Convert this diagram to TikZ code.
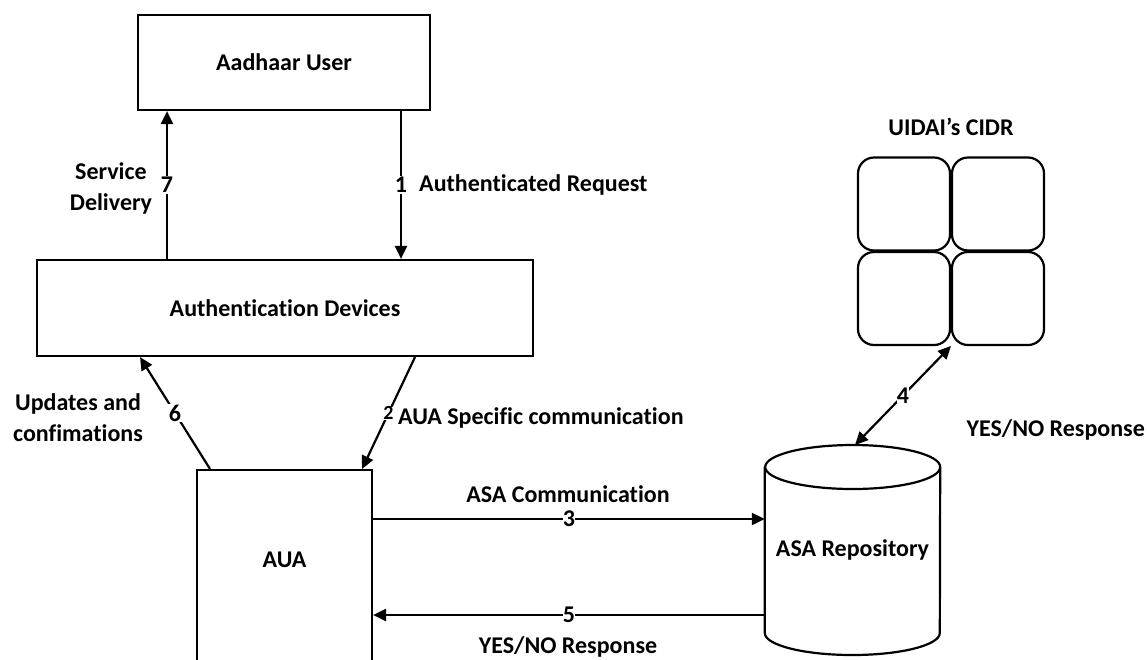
\documentclass[tikz,border=0pt]{standalone}
\usepackage{fontspec}
\setmainfont{Carlito}[Ligatures={NoCommon}]
\usetikzlibrary{arrows.meta}
\begin{document}
\begin{tikzpicture}[x=1pt,y=-1pt,
  font=\fontsize{24}{31}\selectfont\bfseries,
  box/.style={draw, line width=2.2pt, inner sep=0pt},
  cell/.style={draw, line width=2.2pt, rounded corners=16pt, minimum width=92pt, minimum height=93pt, inner sep=0pt},
  arr/.style={line width=2.2pt, -{Triangle[length=13pt,width=12pt]}},
  darr/.style={line width=2.2pt, {Triangle[length=13pt,width=12pt]}-{Triangle[length=13pt,width=12pt]}},
  lbl/.style={inner sep=1pt, fill=white},
  txt/.style={inner sep=0pt, align=center}]
\useasboundingbox (0,0) rectangle (1147,659);
% boxes
\node[box, minimum width=292pt, minimum height=95pt] (user) at (284,62.5) {Aadhaar User};
\node[box, minimum width=496pt, minimum height=96pt] (dev) at (285,308) {Authentication Devices};
\node[box, minimum width=175pt, minimum height=230pt, anchor=north] (aua) at (284.5,469) {};
\node[txt] (auatext) at (284.5,560) {AUA};
% cylinder
\node[minimum width=175pt, minimum height=190pt, inner sep=0pt] (asa) at (852.5,550) {ASA Repository};
\draw[line width=2.2pt] (asa.north west |- 0,467) -- (asa.south west |- 0,633)
  arc[start angle=180, end angle=360, x radius=87.5pt, y radius=22pt]
  -- (asa.north east |- 0,467)
  arc[start angle=0, end angle=360, x radius=87.5pt, y radius=22pt];
\coordinate (asatop) at (855,445);
% CIDR
\node[cell] (c11) at (904,204) {};
\node[cell] (c12) at (998,204) {};
\node[cell] (c21) at (904,298.5) {};
\node[cell] (c22) at (998,298.5) {};
\node[txt] (cidrlbl) at (951,127) {UIDAI’s CIDR};
\coordinate (cidrbot) at (951,346);
% arrow coordinates
\coordinate (x7) at (167,0);
\coordinate (x1) at (401,0);
\coordinate (x6a) at (210,0);
\coordinate (x6b) at (140,0);
\coordinate (x2a) at (415,0);
\coordinate (x2b) at (362,0);
\coordinate (y3) at (0,519);
\coordinate (y5) at (0,615);
% arrows
\draw[arr] (dev.north -| x7) -- (user.south -| x7) node[midway, lbl] (n7) {7};
\draw[arr] (user.south -| x1) -- (dev.north -| x1) node[midway, lbl] (n1) {1};
\draw[arr] (aua.north -| x6a) -- (dev.south -| x6b) node[midway, lbl] (n6) {6};
\draw[arr] (dev.south -| x2a) -- (aua.north -| x2b) node[midway, lbl, inner sep=0pt] (n2) {\fontsize{20}{24}\selectfont 2};
\draw[arr] (aua.east |- y3) -- (asa.west |- y3) node[midway, lbl, inner sep=0pt] (n3) {3};
\draw[arr] (asa.west |- y5) -- (aua.east |- y5) node[midway, lbl, inner sep=0pt] (n5) {5};
\draw[darr] (asatop) -- (cidrbot) node[midway, lbl, inner sep=0pt] (n4) {4};
% labels
\node[txt] (sd) at (111,188) {Service\\Delivery};
\node[txt, anchor=west] (ar) at (419,185) {Authenticated Request};
\node[txt] (uc) at (78,418) {Updates and\\confimations};
\node[txt, anchor=west] (asc) at (398,418) {AUA Specific communication};
\node[txt] (asac) at (568,494) {ASA Communication};
\node[txt] (yn5) at (568,647) {YES/NO Response};
\node[txt, anchor=east] (yn4) at (1145,430) {YES/NO Response};
\end{tikzpicture}
\end{document}
